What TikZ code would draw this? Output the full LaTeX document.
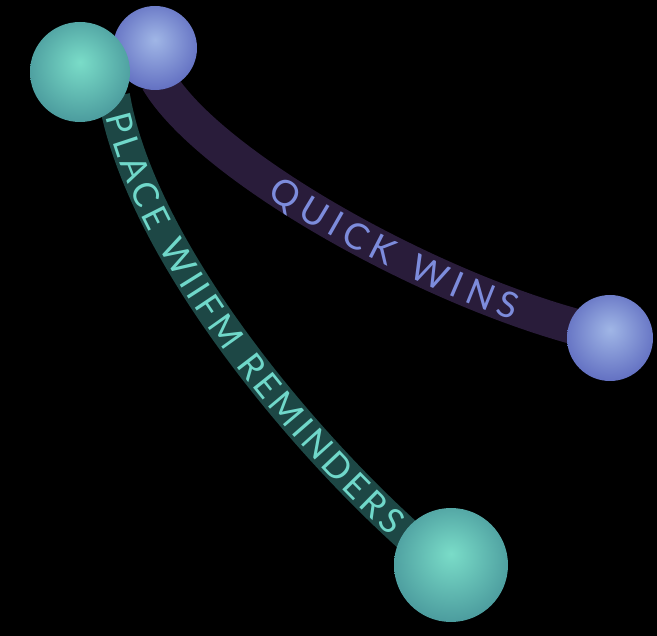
\documentclass[tikz,border=0pt]{standalone}
\usepackage{fontspec}
\newfontfamily\bandfont{Lato}
\usetikzlibrary{decorations.text}
\definecolor{tealband}{HTML}{1D4745}
\definecolor{tealtxt}{HTML}{70D8CA}
\definecolor{purpband}{HTML}{291C3A}
\definecolor{purptxt}{HTML}{7D8CDC}
\definecolor{tealhi}{HTML}{7ADCC8}
\definecolor{tealmid}{HTML}{4E9FA0}
\definecolor{tealdk}{HTML}{357A84}
\definecolor{tealrim}{HTML}{1E4C54}
\definecolor{purphi}{HTML}{A0B6E6}
\definecolor{purpmid}{HTML}{6674C4}
\definecolor{purpdk}{HTML}{4751A6}
\definecolor{purprim}{HTML}{2A2E74}
\pgfdeclareradialshading{tealsh}{\pgfpoint{0bp}{5bp}}{color(0bp)=(tealhi); color(8bp)=(tealhi!70!tealmid); color(26bp)=(tealmid); color(41bp)=(tealdk); color(50bp)=(tealrim)}
\pgfdeclareradialshading{purpsh}{\pgfpoint{0bp}{5bp}}{color(0bp)=(purphi); color(8bp)=(purphi!70!purpmid); color(26bp)=(purpmid); color(41bp)=(purpdk); color(50bp)=(purprim)}
\tikzset{
  tealball/.style={circle, inner sep=0pt, shading=tealsh},
  purpball/.style={circle, inner sep=0pt, shading=purpsh},
  tealstrip/.style={line width=32pt, draw=tealband},
  purpstrip/.style={line width=36pt, draw=purpband},
}
\newcommand{\tealfmt}{\bandfont\fontsize{35pt}{35pt}\selectfont\color{tealtxt}}
\newcommand{\purpfmt}{\bandfont\fontsize{36pt}{36pt}\selectfont\color{purptxt}}
\begin{document}
\begin{tikzpicture}[x=1pt,y=1pt]
\fill[black] (0,0) rectangle (657,-636);
\useasboundingbox (0,0) rectangle (657,-636);
% band end coordinates
\coordinate (pA) at (158,-80);
\coordinate (pB) at (600,-333);
\coordinate (tA) at (114,-96);
\coordinate (tB) at (430,-555);
% purple band
\draw[purpstrip] (pA) .. controls (210,-168) and (440,-296) .. (pB);
\path[decorate, decoration={text along path,
  text={|\purpfmt|QUICK WINS},
  text align={left indent=158pt, right indent=86pt, fit to path},
  raise=-13pt}]
  (pA) .. controls (210,-168) and (440,-296) .. (pB);
% teal band
\draw[tealstrip] (tA) .. controls (140,-250) and (305,-448) .. (tB);
\path[decorate, decoration={text along path,
  text={|\tealfmt|PLACE WIIFM REMINDERS},
  text align={left indent=18pt, right indent=42pt, fit to path},
  raise=-12.5pt}]
  (tA) .. controls (140,-250) and (305,-448) .. (tB);
% spheres
\node[purpball, minimum size=84pt] (p1) at (155,-48) {};
\node[purpball, minimum size=86pt] (p2) at (610,-338) {};
\node[tealball, minimum size=100pt] (t1) at (80,-72) {};
\node[tealball, minimum size=114pt] (t2) at (451,-565) {};
\end{tikzpicture}
\end{document}
